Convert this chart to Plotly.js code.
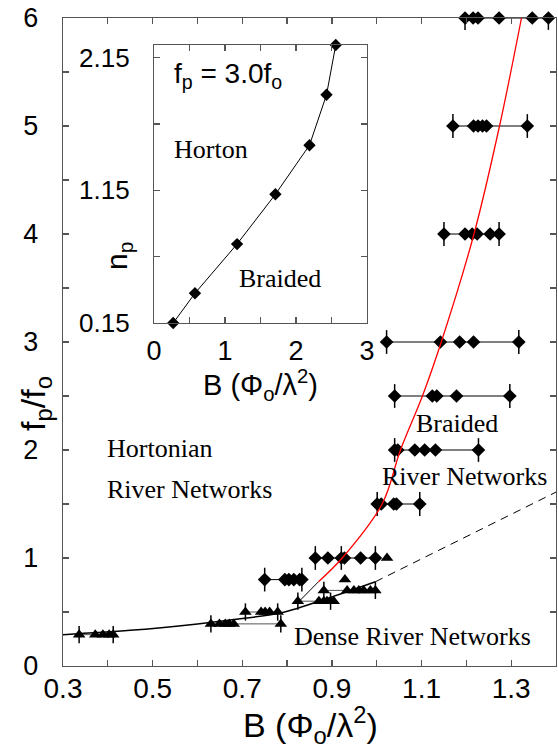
<!DOCTYPE html>
<html>
<head>
<meta charset="utf-8">
<script src="https://cdn.plot.ly/plotly-3.0.1.min.js"></script>
<style>html,body{margin:0;padding:0;background:#fff;}#chart{width:558px;height:753px;}</style>
</head>
<body>
<div id="chart"></div>
<script>
// ---------- data ----------
// Braided rows (diamonds): f_p/f_o level and B values
const diamondLevels = [6, 5, 4, 3, 2.5, 2, 1.5, 1, 0.8];
const diamondB = [
  [1.197, 1.215, 1.226, 1.273, 1.347, 1.383],
  [1.170, 1.216, 1.226, 1.236, 1.245, 1.336],
  [1.150, 1.197, 1.213, 1.224, 1.253, 1.273],
  [1.022, 1.142, 1.185, 1.216, 1.317],
  [1.040, 1.124, 1.134, 1.178, 1.297],
  [1.040, 1.047, 1.085, 1.107, 1.131, 1.227],
  [1.001, 1.010, 1.038, 1.044, 1.096],
  [0.863, 0.891, 0.921, 0.928, 0.964, 0.997],
  [0.750, 0.795, 0.804, 0.815, 0.828, 0.833]
];
const diamondErr = [
  [0.11, 0, 0, 0, 0, 0.11],
  [0.11, 0, 0, 0, 0, 0.11],
  [0.11, 0, 0, 0, 0, 0.11],
  [0.11, 0, 0, 0, 0.11],
  [0.11, 0, 0, 0, 0.11],
  [0.11, 0, 0, 0, 0, 0.11],
  [0.11, 0, 0, 0, 0.11],
  [0.11, 0, 0.11, 0, 0, 0.11],
  [0.11, 0, 0, 0, 0, 0.11]
];
// Dense rows (triangles)
const triLevels = [0.29, 0.39, 0.50, 0.60, 0.70];
const triB = [
  [0.336, 0.372, 0.389, 0.403, 0.412],
  [0.630, 0.649, 0.662, 0.671, 0.681, 0.786],
  [0.707, 0.742, 0.751, 0.761, 0.779],
  [0.824, 0.871, 0.882, 0.889, 0.897, 0.904],
  [0.882, 0.934, 0.949, 0.960, 0.971, 0.986, 0.997]
];
const triErr = [
  [0.08, 0, 0, 0, 0.08],
  [0.08, 0, 0, 0, 0, 0.08],
  [0.08, 0, 0, 0, 0.08],
  [0.08, 0, 0, 0, 0.08, 0],
  [0.08, 0, 0, 0, 0, 0, 0.08]
];
const extraTriB = [0.929, 1.023];
const extraTriF = [0.80, 1.00];
// boundary curves
const denseFitB = [0.30, 0.45, 0.60, 0.70, 0.785, 0.90, 0.997];
const denseFitF = [0.29, 0.33, 0.39, 0.44, 0.49, 0.64, 0.78];
const denseDashB = [0.997, 1.40];
const denseDashF = [0.78, 1.61];
const braidB = [0.870, 0.923, 1.012, 1.053, 1.102, 1.144, 1.217, 1.274, 1.323];
const braidF = [0.78, 1.00, 1.50, 2.00, 2.50, 3.00, 4.00, 5.00, 6.00];
const braidTailB = [0.870, 0.826];
const braidTailF = [0.78, 0.595];
// inset: n_p vs B at f_p = 3.0 f_o
const insetB = [0.27, 0.577, 1.17, 1.71, 2.19, 2.43, 2.56];
const insetN = [0.15, 0.374, 0.745, 1.12, 1.49, 1.87, 2.245];
// ticks
const xTickVals = [0.3,0.4,0.5,0.6,0.7,0.8,0.9,1.0,1.1,1.2,1.3,1.4];
const xTickText = ['0.3','','0.5','','0.7','','0.9','','1.1','','1.3',''];
const yTickVals = [0,0.5,1,1.5,2,2.5,3,3.5,4,4.5,5,5.5,6];
const yTickText = ['0','','1','','2','','3','','4','','5','','6'];
const x2TickVals = [0,0.5,1,1.5,2,2.5,3];
const x2TickText = ['0','','1','','2','','3'];
const y2TickVals = [0.15,0.65,1.15,1.65,2.15];
const y2TickText = ['0.15','','1.15','','2.15'];

// ---------- traces ----------
const traces = [];
const SANS = 'Liberation Sans, Arial, sans-serif';
const SERIF = 'Liberation Serif, Times New Roman, serif';

traces.push({x: denseFitB, y: denseFitF, mode: 'lines', line: {color: '#000', width: 1.5, shape: 'spline'}, hoverinfo: 'skip'});
traces.push({x: denseDashB, y: denseDashF, mode: 'lines', line: {color: '#000', width: 1, dash: '8px,6px'}, hoverinfo: 'skip'});

triLevels.forEach((f, i) => {
  traces.push({
    x: triB[i], y: triB[i].map(() => f), mode: 'lines+markers',
    line: {color: '#555', width: 1},
    marker: {symbol: 'triangle-up', size: 11, color: '#000'},
    error_y: {type: 'data', array: triErr[i], symmetric: true, color: '#000', thickness: 1.5, width: 0},
    cliponaxis: false
  });
});
traces.push({x: extraTriB, y: extraTriF, mode: 'markers', marker: {symbol: 'triangle-up', size: 11, color: '#000'}});

diamondLevels.forEach((f, i) => {
  traces.push({
    x: diamondB[i], y: diamondB[i].map(() => f), mode: 'lines+markers',
    line: {color: '#000', width: 1},
    marker: {symbol: 'diamond', size: 10.5, color: '#000'},
    error_y: {type: 'data', array: diamondErr[i], symmetric: true, color: '#000', thickness: 1.5, width: 0},
    cliponaxis: false
  });
});

traces.push({x: braidTailB, y: braidTailF, mode: 'lines', line: {color: '#000', width: 1}});
traces.push({x: braidB, y: braidF, mode: 'lines', line: {color: '#ff0000', width: 1.3, shape: 'spline'}, cliponaxis: false});

traces.push({x: insetB, y: insetN, xaxis: 'x2', yaxis: 'y2', mode: 'lines+markers',
  line: {color: '#000', width: 1}, marker: {symbol: 'diamond', size: 9.5, color: '#000'}, cliponaxis: false});

const axisCommon = {
  showgrid: false, zeroline: false, showline: true, mirror: 'ticks',
  linecolor: '#555', linewidth: 1.2, ticks: 'inside', ticklen: 6, tickcolor: '#555', tickwidth: 1.2,
  tickmode: 'array'
};

const layout = {
  width: 558, height: 753,
  margin: {l: 63, r: 2, t: 18, b: 87},
  paper_bgcolor: '#fff', plot_bgcolor: 'rgba(0,0,0,0)',
  showlegend: false,
  font: {family: SANS, color: '#000'},
  xaxis: Object.assign({}, axisCommon, {range: [0.3, 1.4], tickvals: xTickVals, ticktext: xTickText,
    tickfont: {family: SANS, size: 28, color: '#000'}, ticklabelstandoff: -3}),
  yaxis: Object.assign({}, axisCommon, {range: [0, 6], tickvals: yTickVals, ticktext: yTickText,
    tickfont: {family: SANS, size: 27, color: '#000'}, ticklabelstandoff: 18}),
  xaxis2: Object.assign({}, axisCommon, {domain: [0.1846, 0.6166], anchor: 'y2', range: [0, 3],
    tickvals: x2TickVals, ticktext: x2TickText, tickfont: {family: SANS, size: 27, color: '#000'}, ticklabelstandoff: 3}),
  yaxis2: Object.assign({}, axisCommon, {domain: [0.5293, 0.9583], anchor: 'x2', range: [0.15, 2.245],
    tickvals: y2TickVals, ticktext: y2TickText, tickfont: {family: SANS, size: 26, color: '#000'}, ticklabelstandoff: 18}),
  shapes: [
    {type: 'rect', xref: 'x2 domain', yref: 'y2 domain', x0: 0, x1: 1, y0: 0, y1: 1,
     fillcolor: '#fff', line: {width: 0}, layer: 'below'}
  ],
  annotations: [
    {xref: 'paper', yref: 'paper', x: 0.503, y: -0.091, text: 'B (Φ<sub>o</sub>/λ<sup>2</sup>)', showarrow: false,
     font: {family: SANS, size: 34}, xanchor: 'center', yanchor: 'middle'},
    {xref: 'paper', yref: 'paper', x: -0.0548, y: 0.406, text: 'f<sub>p</sub>/f<sub>o</sub>', showarrow: false,
     font: {family: SANS, size: 34}, textangle: -90, xanchor: 'center', yanchor: 'middle'},
    {xref: 'paper', yref: 'paper', x: 0.3996, y: 0.4336, text: 'B (Φ<sub>o</sub>/λ<sup>2</sup>)', showarrow: false,
     font: {family: SANS, size: 29}, xanchor: 'center', yanchor: 'middle'},
    {xref: 'paper', yref: 'paper', x: 0.1116, y: 0.6327, text: 'n<sub>p</sub>', showarrow: false,
     font: {family: SANS, size: 30}, textangle: -90, xanchor: 'center', yanchor: 'middle'},
    {xref: 'x2', yref: 'y2', x: 0.254, y: 2.019, text: 'f<sub>p</sub> = 3.0f<sub>o</sub>', showarrow: false,
     font: {family: SANS, size: 28}, xanchor: 'left', yanchor: 'middle'},
    {xref: 'x2', yref: 'y2', x: 0.249, y: 1.454, text: 'Horton', showarrow: false,
     font: {family: SERIF, size: 26}, xanchor: 'left', yanchor: 'middle'},
    {xref: 'x2', yref: 'y2', x: 1.165, y: 0.482, text: 'Braided', showarrow: false,
     font: {family: SERIF, size: 26}, xanchor: 'left', yanchor: 'middle'},
    {xref: 'x', yref: 'y', x: 0.394, y: 2.01, text: 'Hortonian', showarrow: false,
     font: {family: SERIF, size: 26}, xanchor: 'left', yanchor: 'middle'},
    {xref: 'x', yref: 'y', x: 0.394, y: 1.63, text: 'River Networks', showarrow: false,
     font: {family: SERIF, size: 26}, xanchor: 'left', yanchor: 'middle'},
    {xref: 'x', yref: 'y', x: 1.180, y: 2.25, text: 'Braided', showarrow: false,
     font: {family: SERIF, size: 26}, xanchor: 'center', yanchor: 'middle'},
    {xref: 'x', yref: 'y', x: 1.195, y: 1.753, text: 'River Networks', showarrow: false,
     font: {family: SERIF, size: 26}, xanchor: 'center', yanchor: 'middle'},
    {xref: 'x', yref: 'y', x: 1.079, y: 0.271, text: 'Dense River Networks', showarrow: false,
     font: {family: SERIF, size: 26}, xanchor: 'center', yanchor: 'middle'}
  ]
};

Plotly.newPlot('chart', traces, layout, {staticPlot: true, displayModeBar: false});
</script>
</body>
</html>
